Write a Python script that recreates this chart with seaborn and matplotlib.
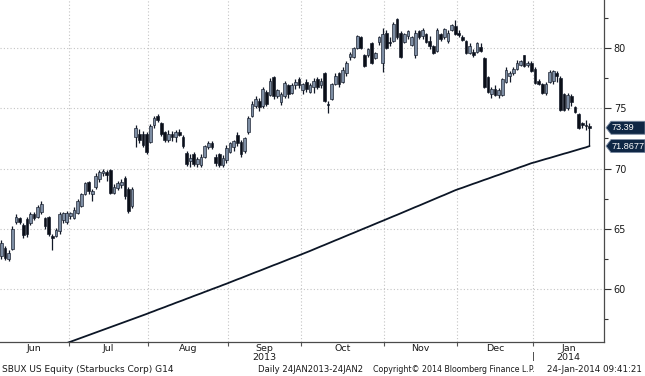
import matplotlib
matplotlib.use("Agg")
import matplotlib.pyplot as plt
import matplotlib.transforms as mtransforms
from matplotlib.patches import Polygon
from matplotlib.ticker import FixedLocator
import numpy as np
import pandas as pd
import seaborn as sns

# ---------------- data ----------------
opens = [62.7, 63.4, 62.5, 63.3, 65.6, 65.9, 65.3, 65.8, 65.5, 66.2,
         66.0, 66.4, 65.9, 66.0, 64.4, 64.4, 64.8, 65.7, 65.6, 66.1,
         65.9, 66.3, 66.9, 67.9, 68.9, 67.9, 68.5, 69.1, 69.6, 69.7,
         69.9, 68.0, 68.4, 68.6, 69.2, 68.3, 66.9, 72.6, 72.9, 72.9,
         72.9, 72.2, 73.6, 74.4, 73.8, 73.0, 72.4, 72.9, 72.6, 73.0,
         72.6, 71.3, 70.6, 71.2, 70.4, 70.3, 71.0, 71.8, 72.1, 71.0,
         71.2, 70.3, 70.7, 71.4, 71.8, 72.8, 72.2, 71.5, 73.0, 74.4,
         75.2, 75.6, 75.2, 76.4, 76.1, 77.6, 76.0, 75.5, 76.0, 76.9,
         76.3, 76.9, 77.4, 76.5, 77.2, 76.4, 76.8, 77.4, 76.9, 77.9,
         75.4, 75.8, 77.0, 77.9, 77.2, 77.9, 79.3, 79.3, 80.0, 80.9,
         79.4, 79.4, 80.4, 79.2, 80.5, 78.8, 81.3, 80.5, 80.6, 82.4,
         81.3, 80.5, 81.0, 80.3, 79.4, 81.4, 81.0, 81.2, 80.6, 80.2,
         79.8, 81.2, 80.9, 80.6, 81.5, 81.8, 81.3, 80.9, 80.6, 79.6,
         79.7, 79.7, 80.1, 79.2, 77.6, 76.2, 76.6, 76.1, 76.1, 77.2,
         77.7, 77.9, 78.3, 78.6, 79.4, 78.6, 78.8, 78.3, 77.3, 77.0,
         76.3, 77.2, 77.3, 77.9, 77.5, 76.2, 75.0, 76.0, 75.1, 74.5,
         73.8, 73.6, 73.5]
highs = [64.1, 63.6, 63.2, 65.2, 66.2, 66.0, 65.5, 66.0, 66.4, 66.4,
         67.0, 67.3, 66.0, 66.1, 64.6, 65.1, 66.4, 66.4, 66.5, 66.4,
         66.8, 67.5, 68.0, 68.9, 69.0, 68.3, 69.6, 69.9, 70.0, 69.9,
         70.0, 68.7, 69.0, 69.1, 69.4, 68.5, 68.5, 73.6, 73.3, 73.1,
         73.0, 73.7, 74.4, 74.5, 73.9, 73.1, 73.2, 73.1, 73.2, 73.3,
         72.8, 71.5, 71.2, 71.4, 71.0, 71.2, 72.0, 72.3, 72.3, 71.2,
         71.3, 71.1, 72.0, 72.2, 72.4, 73.0, 72.4, 72.6, 74.4, 75.6,
         76.0, 75.9, 76.8, 76.5, 77.5, 77.7, 76.6, 76.4, 77.3, 77.0,
         77.1, 77.4, 77.6, 77.1, 77.4, 77.1, 77.5, 77.6, 77.5, 78.0,
         75.6, 77.1, 77.9, 78.0, 78.4, 78.9, 79.7, 80.1, 81.1, 81.0,
         79.5, 80.0, 80.5, 79.7, 81.0, 81.7, 81.5, 80.9, 82.2, 82.5,
         81.4, 81.3, 81.5, 81.0, 81.5, 81.5, 81.7, 81.3, 81.0, 80.3,
         81.7, 81.3, 81.7, 81.5, 82.0, 82.3, 81.5, 81.1, 80.7, 80.4,
         79.9, 80.5, 80.4, 79.3, 77.7, 76.8, 76.9, 76.7, 77.5, 78.4,
         78.1, 78.4, 79.0, 79.0, 79.4, 78.9, 78.9, 78.4, 77.4, 77.1,
         77.2, 78.2, 78.2, 78.1, 77.7, 76.3, 76.3, 76.2, 75.2, 74.6,
         73.9, 74.0, 73.8]
lows = [62.5, 62.4, 62.3, 63.2, 65.4, 65.4, 64.2, 64.3, 65.3, 65.7,
        65.9, 66.2, 65.0, 64.4, 63.2, 64.3, 64.6, 65.5, 65.4, 65.8,
        65.8, 66.2, 66.8, 67.8, 67.9, 67.3, 68.3, 68.9, 69.4, 69.0,
        67.9, 67.9, 68.2, 68.4, 67.5, 66.3, 66.7, 71.8, 72.1, 71.8,
        71.2, 72.1, 73.4, 73.9, 72.7, 72.2, 72.2, 72.3, 72.2, 72.7,
        71.7, 70.2, 70.1, 70.2, 70.1, 70.1, 70.9, 71.6, 71.6, 70.2,
        70.1, 70.1, 70.5, 71.3, 71.5, 71.9, 71.0, 71.3, 72.9, 74.3,
        75.0, 74.8, 75.0, 75.2, 76.0, 75.8, 75.9, 75.3, 75.9, 75.9,
        76.2, 76.6, 76.7, 76.2, 76.4, 76.3, 76.3, 76.6, 76.7, 75.5,
        74.6, 75.7, 76.9, 76.8, 77.1, 77.7, 79.0, 79.2, 79.9, 79.9,
        78.4, 79.3, 78.7, 79.1, 80.3, 78.0, 79.9, 80.2, 80.5, 80.8,
        79.2, 80.4, 80.8, 80.2, 79.2, 80.8, 80.8, 80.4, 79.9, 79.5,
        79.7, 80.6, 80.8, 80.4, 81.4, 81.1, 80.9, 80.6, 79.5, 79.5,
        79.3, 79.6, 79.7, 76.7, 76.3, 75.9, 76.0, 75.9, 76.0, 77.1,
        77.2, 77.8, 78.2, 78.5, 78.4, 78.4, 78.0, 77.0, 76.9, 76.2,
        76.1, 77.1, 77.0, 77.2, 74.8, 74.8, 74.9, 75.2, 74.6, 73.3,
        73.4, 73.2, 71.87]
closes = [63.8, 62.6, 63.0, 65.0, 66.0, 65.6, 64.5, 64.6, 66.2, 65.9,
          66.8, 67.1, 65.2, 64.6, 64.2, 64.9, 66.2, 66.3, 66.3, 66.3,
          66.6, 67.3, 67.9, 68.8, 68.1, 68.1, 69.4, 69.7, 69.8, 69.5,
          68.0, 68.5, 68.8, 68.9, 67.7, 66.5, 68.3, 73.4, 72.4, 72.0,
          71.4, 73.5, 74.2, 74.0, 72.9, 72.4, 72.9, 72.6, 73.0, 72.8,
          71.9, 70.4, 70.9, 70.4, 70.8, 71.0, 71.9, 72.1, 71.8, 70.5,
          70.3, 70.9, 71.7, 72.1, 72.3, 72.1, 71.2, 72.5, 74.2, 75.4,
          75.8, 75.1, 76.6, 75.4, 77.3, 76.0, 76.5, 76.2, 77.1, 76.2,
          76.9, 77.2, 76.9, 77.0, 76.6, 76.9, 77.3, 76.8, 77.3, 75.6,
          75.3, 77.0, 77.7, 77.0, 78.2, 78.8, 79.5, 80.0, 81.0, 80.0,
          78.5, 79.9, 78.8, 79.6, 80.9, 81.2, 80.0, 80.4, 82.0, 80.9,
          79.3, 81.2, 81.4, 80.9, 81.3, 80.9, 81.5, 80.5, 80.2, 79.6,
          81.5, 80.8, 81.6, 81.3, 81.9, 81.2, 81.1, 80.7, 79.6, 80.2,
          79.4, 80.4, 79.8, 76.8, 76.4, 76.6, 76.1, 76.5, 77.4, 78.2,
          77.9, 78.3, 78.8, 78.9, 78.5, 78.8, 78.1, 77.1, 77.0, 76.3,
          77.0, 78.0, 78.1, 77.7, 74.9, 74.9, 76.1, 75.5, 74.7, 73.4,
          73.6, 73.5, 73.39]

# 200-day moving average, starting at trading day index 17
ma_start = 17
ma200 = [55.40, 55.51, 55.62, 55.73, 55.84, 55.95, 56.06, 56.17, 56.28, 56.39,
         56.50, 56.61, 56.72, 56.83, 56.94, 57.05, 57.16, 57.27, 57.38, 57.49,
         57.60, 57.71, 57.82, 57.93, 58.05, 58.16, 58.28, 58.39, 58.50, 58.62,
         58.73, 58.85, 58.96, 59.07, 59.19, 59.30, 59.42, 59.53, 59.64, 59.76,
         59.87, 59.99, 60.10, 60.21, 60.33, 60.44, 60.56, 60.68, 60.80, 60.91,
         61.03, 61.15, 61.27, 61.39, 61.50, 61.62, 61.74, 61.86, 61.98, 62.09,
         62.21, 62.33, 62.45, 62.57, 62.68, 62.80, 62.92, 63.04, 63.16, 63.29,
         63.41, 63.54, 63.66, 63.79, 63.91, 64.04, 64.16, 64.29, 64.41, 64.54,
         64.66, 64.79, 64.91, 65.04, 65.16, 65.29, 65.41, 65.54, 65.66, 65.79,
         65.91, 66.04, 66.16, 66.29, 66.42, 66.54, 66.67, 66.80, 66.92, 67.05,
         67.18, 67.31, 67.43, 67.56, 67.69, 67.81, 67.94, 68.07, 68.20, 68.31,
         68.41, 68.52, 68.63, 68.74, 68.84, 68.95, 69.06, 69.16, 69.27, 69.38,
         69.48, 69.59, 69.70, 69.80, 69.91, 70.02, 70.13, 70.23, 70.34, 70.45,
         70.53, 70.62, 70.71, 70.80, 70.88, 70.97, 71.06, 71.15, 71.24, 71.32,
         71.41, 71.50, 71.59, 71.68, 71.76, 71.87]

month_labels = ["Jun", "Jul", "Aug", "Sep\n2013", "Oct", "Nov", "Dec", "Jan\n2014"]
month_start_idx = [0, 19, 41, 63, 83, 106, 126, 147]
y_ticks = [60, 65, 70, 75, 80]
y_minor = [57.5, 62.5, 67.5, 72.5, 77.5, 82.5]
last_label = "73.39"
ma_label = "71.8677"
footer_left = "SBUX US Equity (Starbucks Corp) G14"
footer_mid = "Daily 24JAN2013-24JAN2"
footer_copy = "Copyright\u00a9 2014 Bloomberg Finance L.P."
footer_time = "24-Jan-2014 09:41:21"

# ---------------- styling ----------------
sns.set_theme(style="white")
plt.rcParams['font.family'] = ['DejaVu Sans']

UP_C = "#7d8da3"
DN_C = "#0b0f18"
EDGE = "#111827"
MA_C = "#0c1626"
TXT = "#1a1a1a"
GRID = "#c4c4c4"

W, H = 645, 376
fig = plt.figure(figsize=(W / 100, H / 100), dpi=100)
ax = fig.add_axes([0, 34 / H, 604 / W, 342 / H])

n = len(closes)
df = pd.DataFrame({"idx": np.arange(n), "open": opens, "high": highs,
                   "low": lows, "close": closes})
up = df["close"] >= df["open"]

ax.vlines(df["idx"], df["low"], df["high"], color=EDGE, lw=0.9, zorder=3)
body_bottom = np.minimum(df["open"], df["close"])
body_h = np.maximum(np.abs(df["close"] - df["open"]), 0.1)
ax.bar(df["idx"], body_h, bottom=body_bottom, width=0.74,
       color=np.where(up, UP_C, DN_C), edgecolor=EDGE, linewidth=0.45, zorder=4)

ma_df = pd.DataFrame({"idx": np.arange(ma_start, ma_start + len(ma200)), "ma": ma200})
sns.lineplot(data=ma_df, x="idx", y="ma", color=MA_C, lw=1.3, ax=ax, zorder=5)

ax.set_xlim(-0.4, 166)
ax.set_ylim(55.6, 84.0)
ax.set_xlabel("")
ax.set_ylabel("")

for s in ["top", "left"]:
    ax.spines[s].set_visible(False)
for s in ["right", "bottom"]:
    ax.spines[s].set_color("#4a4a4a")
    ax.spines[s].set_linewidth(0.9)

# y axis on right
ax.yaxis.tick_right()
ax.set_yticks(y_ticks)
ax.set_yticklabels([str(v) for v in y_ticks])
ax.yaxis.set_minor_locator(FixedLocator(y_minor))
ax.tick_params(axis="y", which="major", length=5, width=0.8, color="#333333",
               labelsize=7, pad=2, labelcolor=TXT, right=True, left=False)
ax.tick_params(axis="y", which="minor", length=3, width=0.8, color="#333333",
               right=True, left=False)

# x axis: month boundaries (grid) and centred month labels
bounds = [s - 0.5 for s in month_start_idx[1:]]
edges = [-0.4] + bounds + [166]
centers = [(edges[k] + edges[k + 1]) / 2 for k in range(len(month_labels))]
ax.set_xticks(bounds)
ax.set_xticklabels([])
ax.set_xticks(centers, minor=True)
ax.set_xticklabels(month_labels, minor=True)
ax.tick_params(axis="x", which="major", length=3, width=0.8, color="#555555",
               bottom=True, direction="out")
ax.tick_params(axis="x", which="minor", length=0, labelsize=6.8, pad=1.5,
               labelcolor=TXT, bottom=True)
for lab in ax.get_xticklabels(minor=True):
    lab.set_linespacing(0.92)

ax.grid(True, which="major", axis="both", ls=(0, (1, 2)), color=GRID, lw=0.8)
ax.set_axisbelow(True)

# year separator
ax.text(bounds[-1], -0.043, "|", transform=ax.get_xaxis_transform(),
        ha="center", va="center", fontsize=6.5, color=TXT)

# footer
fy = 1 - 369 / H
fig.text(2 / W, fy, footer_left, fontsize=6.5, color=TXT, va="center", ha="left")
fig.text(258 / W, fy, footer_mid, fontsize=6.1, color=TXT, va="center", ha="left")
fig.text(373 / W, fy, footer_copy, fontsize=5.7, color=TXT, va="center", ha="left")
fig.text(642 / W, fy, footer_time, fontsize=6.3, color=TXT, va="center", ha="right")

# value tags on the right
def tag(val, label):
    yd = ax.transData.transform((0, val))[1]
    x0, x1, x2, h = 606, 611, 645, 6.5
    poly = Polygon([(x0, yd), (x1, yd + h), (x2, yd + h), (x2, yd - h), (x1, yd - h)],
                   closed=True, transform=mtransforms.IdentityTransform(),
                   facecolor="#0f2745", edgecolor="#7d8ca3", lw=0.6)
    fig.add_artist(poly)
    fig.text(611.5 / W, yd / H, label, color="white", fontsize=6.6,
             va="center", ha="left", family=["Liberation Sans", "DejaVu Sans"])

tag(closes[-1], last_label)
tag(ma200[-1], ma_label)

fig.savefig("out.png", dpi=100)
